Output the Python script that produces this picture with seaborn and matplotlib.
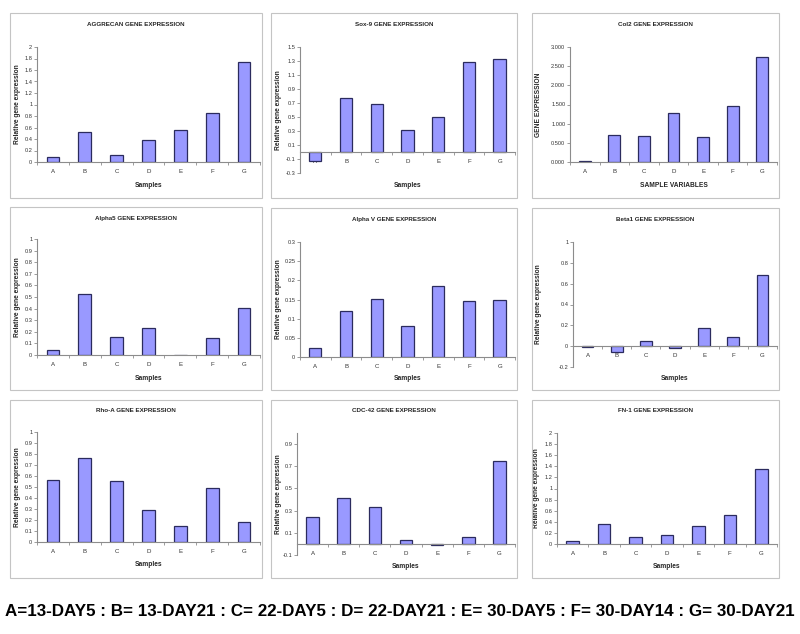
import numpy as np
import pandas as pd
import matplotlib
matplotlib.use("Agg")
import matplotlib.pyplot as plt
import seaborn as sns
from matplotlib.patches import Rectangle

# --- Data ---
SAMPLES = ["A", "B", "C", "D", "E", "F", "G"]
AGGRECAN = [0.09, 0.52, 0.125, 0.39, 0.55, 0.85, 1.74]
SOX9 = [-0.135, 0.77, 0.68, 0.31, 0.50, 1.28, 1.33]
COL2 = [0.025, 0.70, 0.67, 1.27, 0.64, 1.45, 2.75]
ALPHA5 = [0.04, 0.525, 0.153, 0.236, 0.0, 0.15, 0.403]
ALPHAV = [0.024, 0.119, 0.152, 0.082, 0.185, 0.147, 0.150]
BETA1 = [-0.008, -0.054, 0.045, -0.022, 0.175, 0.086, 0.688]
RHOA = [0.567, 0.764, 0.552, 0.288, 0.148, 0.49, 0.179]
CDC42 = [0.24, 0.41, 0.33, 0.033, -0.012, 0.066, 0.75]
FN1 = [0.06, 0.36, 0.126, 0.157, 0.32, 0.52, 1.35]

CAPTION = ("A=13-DAY5 : B= 13-DAY21 : C= 22-DAY5 : D= 22-DAY21 : "
           "E= 30-DAY5 : F= 30-DAY14 : G= 30-DAY21")

# --- Style ---
W, H = 800, 634
BAR = "#9999FF"
EDGE = "#2b2b5e"
AXIS = "#8c8c8c"
BORDER = "#c4c4c4"
FONT = ["Liberation Sans", "DejaVu Sans"]

sns.set_theme(style="white")
plt.rcParams["font.family"] = FONT


def fx(x):
    return x / W


def fy(y):
    return 1 - y / H


def general(v):
    return f"{round(v, 4):g}"


def three_dec(v):
    return f"{v:.3f}"


def draw_panel(fig, values, title, ylabel, xlabel, ylim, ystep, fmt,
               box, rect, ylab_x, xlab_y):
    # chart area border
    l, t, r, b = box
    fig.add_artist(Rectangle((fx(l), fy(b)), (r - l) / W, (b - t) / H,
                             transform=fig.transFigure, fill=False,
                             edgecolor=BORDER, lw=0.8))
    fig.text(fx((l + r) / 2), fy(t + 11), title, ha="center", va="center",
             fontsize=4.5, fontweight="bold")

    al, at, ar, ab = rect
    ax = fig.add_axes([fx(al), fy(ab), (ar - al) / W, (ab - at) / H])
    df = pd.DataFrame({"sample": SAMPLES, "value": values})
    sns.barplot(data=df, x="sample", y="value", ax=ax, color=BAR,
                edgecolor=EDGE, linewidth=0.9, width=0.4, saturation=1,
                errorbar=None)

    ax.set_xlim(-0.5, 6.5)
    ax.set_ylim(*ylim)
    ticks = np.arange(ylim[0], ylim[1] + 1e-9, ystep)
    ax.set_yticks(ticks)
    ax.set_yticklabels([fmt(v) for v in ticks])
    ax.set_xticks(np.arange(-0.5, 7, 1), minor=True)

    for side in ["top", "right"]:
        ax.spines[side].set_visible(False)
    for side in ["left", "bottom"]:
        ax.spines[side].set_color(AXIS)
        ax.spines[side].set_linewidth(0.8)
    ax.spines["bottom"].set_position(("data", 0))

    ax.tick_params(axis="x", which="major", length=0, pad=5,
                   labelsize=4.4, labelcolor="#333333")
    ax.tick_params(axis="x", which="minor", bottom=True, length=2.5,
                   width=0.6, color=AXIS, direction="out")
    ax.tick_params(axis="y", left=True, length=2.2, width=0.6, color=AXIS,
                   direction="out", pad=1.2, labelsize=4.1,
                   labelcolor="#333333")

    ax.set_xlabel(xlabel, fontsize=4.8, fontweight="bold", va="center")
    ax.xaxis.set_label_coords(fx((al + ar) / 2), fy(xlab_y),
                              transform=fig.transFigure)
    ax.set_ylabel(ylabel, fontsize=4.8, fontweight="bold", va="center")
    ax.yaxis.set_label_coords(fx(ylab_x), fy((at + ab) / 2),
                              transform=fig.transFigure)
    return ax


fig = plt.figure(figsize=(W / 100, H / 100), dpi=100)
fig.patch.set_facecolor("white")

REL = "Relative gene expression"

draw_panel(fig, AGGRECAN, "AGGRECAN GENE EXPRESSION", REL, "Samples",
           (0, 2), 0.2, general,
           (10, 13, 262, 198), (37, 47, 260, 162), 18, 186)
draw_panel(fig, SOX9, "Sox-9 GENE EXPRESSION", REL, "Samples",
           (-0.3, 1.5), 0.2, general,
           (271, 13, 517, 198), (300, 47, 515, 173), 279, 186)
draw_panel(fig, COL2, "Col2 GENE EXPRESSION", "GENE EXPRESSION",
           "SAMPLE VARIABLES", (0, 3), 0.5, three_dec,
           (532, 13, 779, 198), (570, 47, 777, 162), 538, 186)

draw_panel(fig, ALPHA5, "Alpha5 GENE EXPRESSION", REL, "Samples",
           (0, 1), 0.1, general,
           (10, 207, 262, 390), (37, 239, 260, 355), 18, 378)
draw_panel(fig, ALPHAV, "Alpha V GENE EXPRESSION", REL, "Samples",
           (0, 0.3), 0.05, general,
           (271, 208, 517, 390), (300, 242, 515, 357), 279, 379)
draw_panel(fig, BETA1, "Beta1 GENE EXPRESSION", REL, "Samples",
           (-0.2, 1), 0.2, general,
           (532, 208, 779, 390), (573, 242, 777, 367), 538, 379)

draw_panel(fig, RHOA, "Rho-A GENE EXPRESSION", REL, "Samples",
           (0, 1), 0.1, general,
           (10, 400, 262, 578), (37, 432, 260, 542), 18, 565)
draw_panel(fig, CDC42, "CDC-42 GENE EXPRESSION", REL, "Samples",
           (-0.1, 1.0), 0.2, general,
           (271, 400, 517, 578), (297, 433, 515, 555), 279, 566)
draw_panel(fig, FN1, "FN-1 GENE EXPRESSION", REL, "Samples",
           (0, 2), 0.2, general,
           (532, 400, 779, 578), (557, 433, 777, 544), 537, 566)

# caption: shrink the font until it spans the width seen in the reference
cap = fig.text(0.5, fy(612), CAPTION, ha="center", va="center",
               fontsize=14, fontweight="bold", color="black")
renderer = fig.canvas.get_renderer()
width = cap.get_window_extent(renderer).width
cap.set_fontsize(14 * 788 / width)

fig.savefig("out.png", dpi=100)
